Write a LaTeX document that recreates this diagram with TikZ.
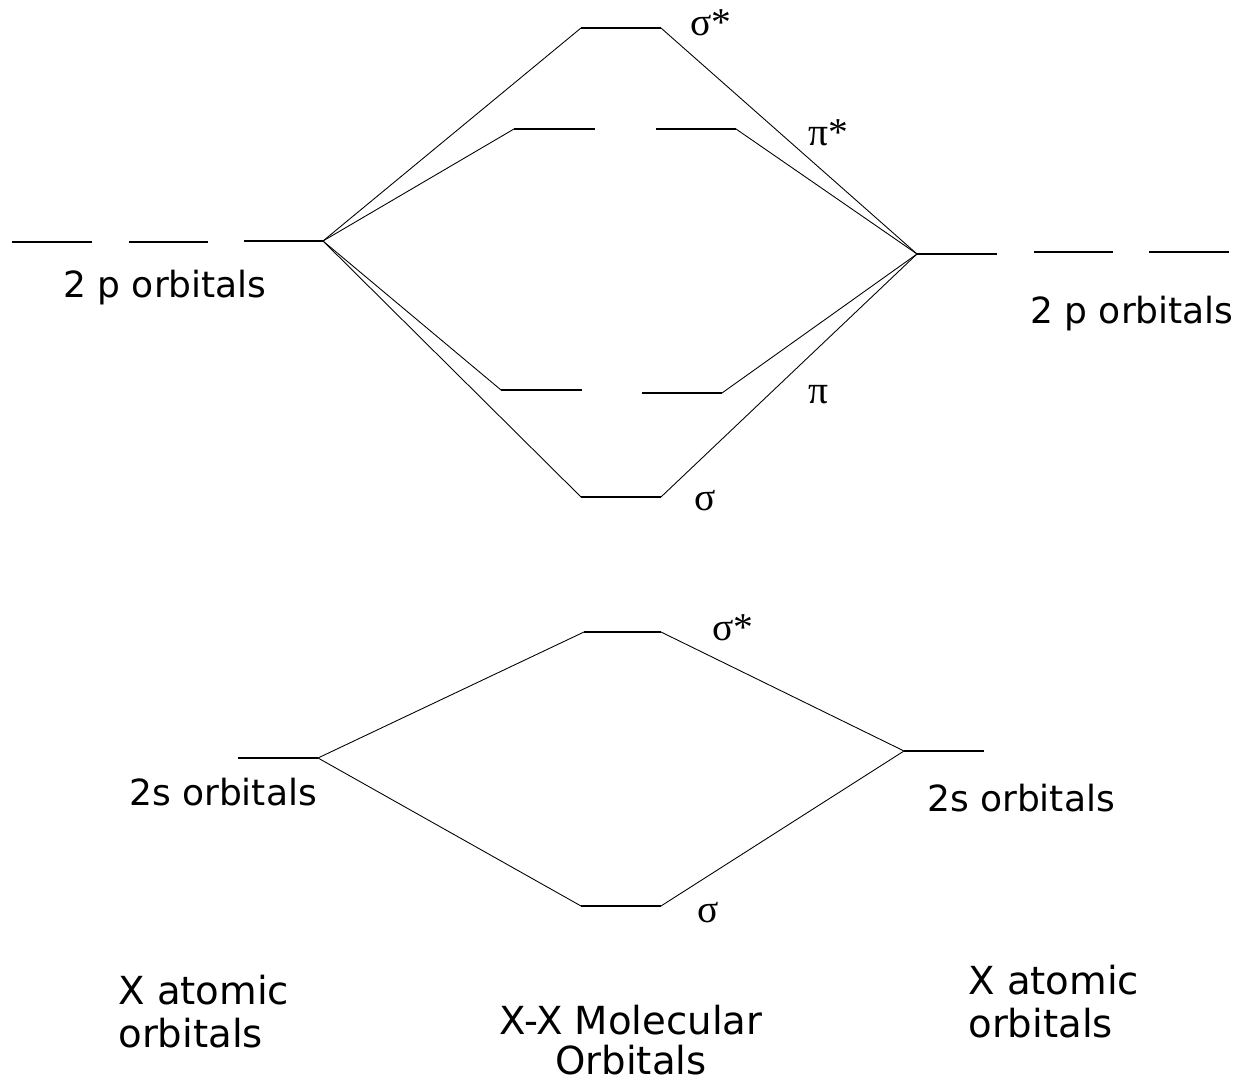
\documentclass[tikz,border=0pt]{standalone}
\usepackage{fontspec}
\setmainfont{DejaVu Sans}
\newfontfamily\greekfont{Liberation Serif}
\begin{document}
\begin{tikzpicture}[x=0.02cm,y=-0.02cm,
  lvl/.style={line width=0.6pt},
  cn/.style={line width=0.5pt},
  lbl/.style={font=\fontsize{20.5}{24}\selectfont, inner sep=0pt},
  big/.style={font=\fontsize{22}{24.5}\selectfont, inner sep=0pt, align=left},
  gr/.style={font=\greekfont\fontsize{22.5}{24}\selectfont, inner sep=0pt}]
\useasboundingbox (0,0) rectangle (1242,1084);
% ---------- 2p levels ----------
\coordinate (L2pA1) at (12,242);  \coordinate (L2pA2) at (92,242);
\coordinate (L2pB1) at (129,242); \coordinate (L2pB2) at (208,242);
\coordinate (L2pC1) at (244,241); \coordinate (Lp) at (323,241);
\coordinate (Rp) at (917,254);    \coordinate (R2pA2) at (997,254);
\coordinate (R2pB1) at (1034,252); \coordinate (R2pB2) at (1113,252);
\coordinate (R2pC1) at (1149,252); \coordinate (R2pC2) at (1229,252);
\draw[lvl] (L2pA1) -- (L2pA2);
\draw[lvl] (L2pB1) -- (L2pB2);
\draw[lvl] (L2pC1) -- (Lp);
\draw[lvl] (Rp) -- (R2pA2);
\draw[lvl] (R2pB1) -- (R2pB2);
\draw[lvl] (R2pC1) -- (R2pC2);
% MO levels
\coordinate (ssL) at (581,28);  \coordinate (ssR) at (661,28);
\coordinate (psL1) at (514,129); \coordinate (psL2) at (595,129);
\coordinate (psR1) at (656,129); \coordinate (psR2) at (736,129);
\coordinate (pL1) at (501,390); \coordinate (pL2) at (582,390);
\coordinate (pR1) at (642,393); \coordinate (pR2) at (722,393);
\coordinate (sL) at (581,497); \coordinate (sR) at (661,497);
\draw[lvl] (ssL) -- (ssR);
\draw[lvl] (psL1) -- (psL2);
\draw[lvl] (psR1) -- (psR2);
\draw[lvl] (pL1) -- (pL2);
\draw[lvl] (pR1) -- (pR2);
\draw[lvl] (sL) -- (sR);
% correlation lines
\draw[cn] (Lp) -- (ssL);
\draw[cn] (Lp) -- (psL1);
\draw[cn] (Lp) -- (pL1);
\draw[cn] (Lp) -- (sL);
\draw[cn] (ssR) -- (Rp);
\draw[cn] (psR2) -- (Rp);
\draw[cn] (pR2) -- (Rp);
\draw[cn] (sR) -- (Rp);
% labels
\node[gr] (lss) at (711,23) {σ*};
\node[gr] (lps) at (828,133) {π*};
\node[gr] (lp) at (818,395) {π};
\node[gr] (ls) at (705,501) {σ};
\node[lbl] (t2pL) at (165,288) {2 p orbitals};
\node[lbl] (t2pR) at (1132,314) {2 p orbitals};
% ---------- 2s ----------
\coordinate (sA1) at (238,758); \coordinate (Ls) at (318,758);
\coordinate (Rs) at (904,751);  \coordinate (sB2) at (984,751);
\coordinate (s2L) at (584,632); \coordinate (s2R) at (661,632);
\coordinate (b2L) at (581,906); \coordinate (b2R) at (661,906);
\draw[lvl] (sA1) -- (Ls);
\draw[lvl] (Rs) -- (sB2);
\draw[lvl] (s2L) -- (s2R);
\draw[lvl] (b2L) -- (b2R);
\draw[cn] (Ls) -- (s2L);
\draw[cn] (Ls) -- (b2L);
\draw[cn] (s2R) -- (Rs);
\draw[cn] (b2R) -- (Rs);
\node[gr] (lss2) at (733,628) {σ*};
\node[gr] (ls2) at (708,913) {σ};
\node[lbl] (t2sL) at (223,792) {2s orbitals};
\node[lbl] (t2sR) at (1021,798) {2s orbitals};
% ---------- bottom captions ----------
\node[big, anchor=west] (capL) at (118,1012) {X atomic\\orbitals};
\node[big, align=center, font=\fontsize{22}{23}\selectfont] (capM) at (631,1040) {X-X Molecular\\Orbitals};
\node[big, anchor=west] (capR) at (968,1002) {X atomic\\orbitals};
\end{tikzpicture}
\end{document}
